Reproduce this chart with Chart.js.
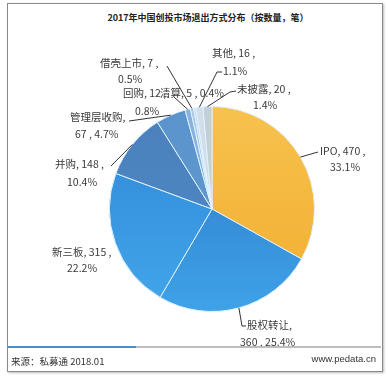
<!DOCTYPE html>
<html>
<head>
<meta charset="utf-8">
<script src="https://cdn.jsdelivr.net/npm/chart.js@4"></script>
<style>
  body { margin: 0; background: #fff; font-family: "Noto Sans CJK SC", "Noto Sans", sans-serif; }
  #wrap { position: relative; width: 388px; height: 376px; }
  #frame { position: absolute; left: 7px; top: 3px; width: 374px; height: 367px; border: 1px solid #8a8a8a; box-shadow: 1px 1px 2px #bbb; }
  #title { position: absolute; left: 0; width: 416px; top: 11px; text-align: center; font-size: 9px; font-weight: bold; color: #222; }
  #sep { position: absolute; left: 8px; top: 346px; width: 373px; height: 2px; background: #bdbdbd; }
  #sep div { width: 128px; height: 2px; background: #4f8dc0; }
  #src { position: absolute; left: 11px; top: 354px; font-size: 9.5px; color: #333; }
  #site { position: absolute; right: 12px; top: 353px; font-size: 9.5px; color: #333; font-family: "Liberation Sans", Arial, sans-serif; }
  canvas { position: absolute; left: 0; top: 0; }
</style>
</head>
<body>
<div id="wrap">
  <div id="frame"></div>
  <div id="title">2017年中国创投市场退出方式分布（按数量，笔）</div>
  <canvas id="pie" width="388" height="376"></canvas>
  <div id="sep"><div></div></div>
  <div id="src">来源：私募通 2018.01</div>
  <div id="site">www.pedata.cn</div>
</div>
<script>
// data, clockwise from 12 o'clock
var categories = ["IPO", "股权转让", "新三板", "并购", "管理层收购", "回购", "借壳上市", "清算", "其他", "未披露"];
var counts = [470, 360, 315, 148, 67, 12, 7, 5, 16, 20];
var pctLabels = ["33.1%", "25.4%", "22.2%", "10.4%", "4.7%", "0.8%", "0.5%", "0.4%", "1.1%", "1.4%"];

// slice colours: [top, bottom] of a vertical gradient
var sliceColors = [
    ["#f7c24e", "#f1ad2f"],
    ["#2c78c4", "#3fa2e8"],
    ["#2f86d6", "#42a6ea"],
    ["#4a80bd", "#4f8ac6"],
    ["#5b93cc", "#6299cf"],
    ["#86b2dd", "#86b2dd"],
    ["#a7c6e5", "#a7c6e5"],
    ["#c2d7eb", "#c2d7eb"],
    ["#d3dde8", "#d3dde8"],
    ["#c3ced9", "#c3ced9"]
];

// label placement: mode a = "name, value ," / "pct", b = "name," / "value , pct", c = one line
var labelLayout = [
    { mode: "a", x1: 320, y1: 151, x2: 330, y2: 167, pts: [[318, 152]] },
    { mode: "b", x1: 247, y1: 325, x2: 240, y2: 342, pts: [[242, 326], [246, 326]] },
    { mode: "a", x1: 52, y1: 252, x2: 67, y2: 268, pts: null },
    { mode: "a", x1: 55, y1: 164, x2: 67, y2: 182, pts: [[111, 166]] },
    { mode: "b", x1: 70, y1: 117, x2: 75, y2: 134, pts: [[129, 121]] },
    { mode: "a", x1: 123, y1: 93, x2: 135, y2: 111, pts: [[174, 97]] },
    { mode: "a", x1: 100, y1: 63, x2: 118, y2: 79, pts: [[167, 66]] },
    { mode: "c", x1: 160, y1: 93, pts: null },
    { mode: "a", x1: 212, y1: 53, x2: 223, y2: 71, pts: [[217, 72], [222, 72]] },
    { mode: "a", x1: 237, y1: 89, x2: 253, y2: 105, pts: [[230, 92], [236, 91]] }
];

function labelLines(i) {
    var l = labelLayout[i];
    if (l.mode === "a") return [categories[i] + ", " + counts[i] + " ,", pctLabels[i]];
    if (l.mode === "b") return [categories[i] + ",", counts[i] + " , " + pctLabels[i]];
    return [categories[i] + ", " + counts[i] + " , " + pctLabels[i]];
}

var calloutPlugin = {
    id: "callouts",
    afterDraw: function (chart) {
        var ctx = chart.ctx;
        var arcs = chart.getDatasetMeta(0).data;
        ctx.save();
        ctx.strokeStyle = "#333";
        ctx.lineWidth = 1;
        arcs.forEach(function (arc, i) {
            var l = labelLayout[i];
            if (!l.pts) return;
            var a = (arc.startAngle + arc.endAngle) / 2;
            ctx.beginPath();
            ctx.moveTo(arc.x + Math.cos(a) * arc.outerRadius, arc.y + Math.sin(a) * arc.outerRadius);
            l.pts.forEach(function (p) { ctx.lineTo(p[0], p[1]); });
            ctx.stroke();
        });
        ctx.fillStyle = "#3a3a3a";
        ctx.font = '10.5px "Noto Sans CJK SC", sans-serif';
        ctx.textAlign = "left";
        ctx.textBaseline = "middle";
        arcs.forEach(function (arc, i) {
            var l = labelLayout[i];
            var t = labelLines(i);
            ctx.fillText(t[0], l.x1, l.y1);
            if (t[1]) ctx.fillText(t[1], l.x2, l.y2);
        });
        ctx.restore();
    }
};

new Chart(document.getElementById("pie"), {
    type: "pie",
    data: {
        labels: categories,
        datasets: [{
            data: counts,
            backgroundColor: function (c) {
                var area = c.chart.chartArea;
                var col = sliceColors[c.dataIndex];
                if (!area) return col[0];
                var g = c.chart.ctx.createLinearGradient(0, area.top, 0, area.bottom);
                g.addColorStop(0, col[0]);
                g.addColorStop(1, col[1]);
                return g;
            },
            borderColor: "#dff2ff",
            borderWidth: 1
        }]
    },
    options: {
        responsive: false,
        animation: false,
        layout: { padding: { left: 109, right: 73, top: 106, bottom: 64 } },
        plugins: {
            legend: { display: false },
            tooltip: { enabled: false }
        }
    },
    plugins: [calloutPlugin]
});
</script>
</body>
</html>
